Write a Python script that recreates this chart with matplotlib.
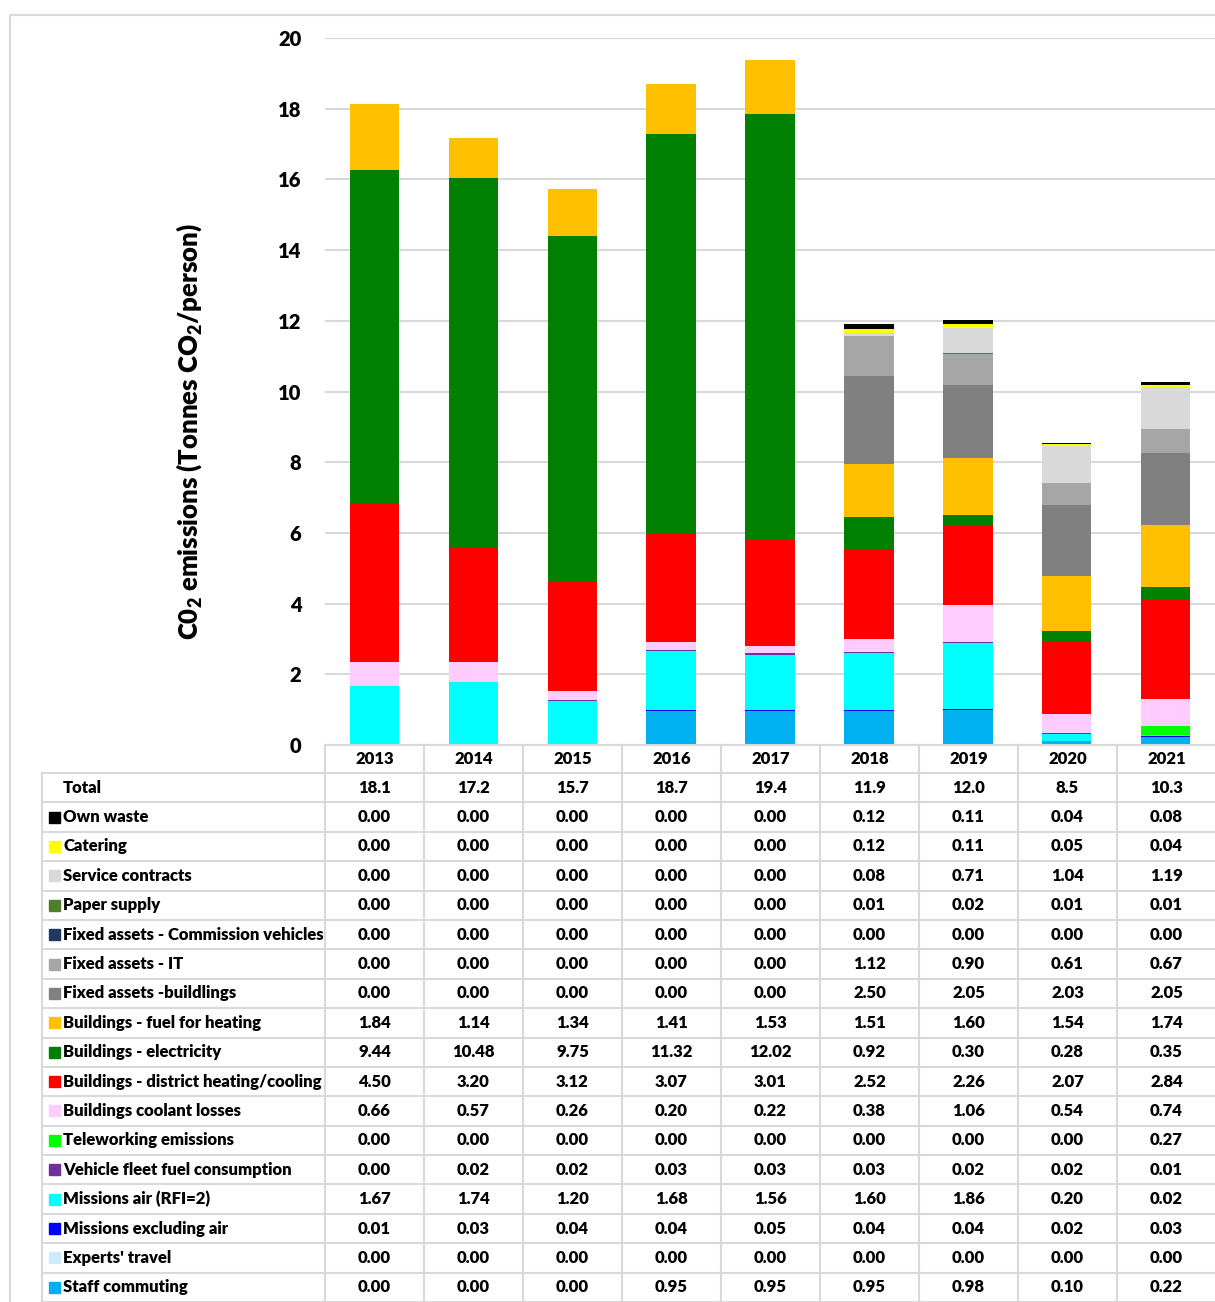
import matplotlib.pyplot as plt
from matplotlib.patches import Rectangle

plt.rcParams['font.family'] = ['Lato', 'DejaVu Sans']
plt.rcParams['font.weight'] = 'heavy'
plt.rcParams['mathtext.default'] = 'regular'

# Data: tonnes CO2 per person, one list per emission source
years = ["2013", "2014", "2015", "2016", "2017", "2018", "2019", "2020", "2021"]
totals = [18.1, 17.2, 15.7, 18.7, 19.4, 11.9, 12.0, 8.5, 10.3]

staff_commuting = [0.00, 0.00, 0.00, 0.95, 0.95, 0.95, 0.98, 0.10, 0.22]
experts_travel = [0.00, 0.00, 0.00, 0.00, 0.00, 0.00, 0.00, 0.00, 0.00]
missions_excl_air = [0.01, 0.03, 0.04, 0.04, 0.05, 0.04, 0.04, 0.02, 0.03]
missions_air = [1.67, 1.74, 1.20, 1.68, 1.56, 1.60, 1.86, 0.20, 0.02]
vehicle_fleet = [0.00, 0.02, 0.02, 0.03, 0.03, 0.03, 0.02, 0.02, 0.01]
teleworking = [0.00, 0.00, 0.00, 0.00, 0.00, 0.00, 0.00, 0.00, 0.27]
coolant_losses = [0.66, 0.57, 0.26, 0.20, 0.22, 0.38, 1.06, 0.54, 0.74]
district_heating = [4.50, 3.20, 3.12, 3.07, 3.01, 2.52, 2.26, 2.07, 2.84]
electricity = [9.44, 10.48, 9.75, 11.32, 12.02, 0.92, 0.30, 0.28, 0.35]
fuel_heating = [1.84, 1.14, 1.34, 1.41, 1.53, 1.51, 1.60, 1.54, 1.74]
fa_buildings = [0.00, 0.00, 0.00, 0.00, 0.00, 2.50, 2.05, 2.03, 2.05]
fa_it = [0.00, 0.00, 0.00, 0.00, 0.00, 1.12, 0.90, 0.61, 0.67]
fa_vehicles = [0.00, 0.00, 0.00, 0.00, 0.00, 0.00, 0.00, 0.00, 0.00]
paper_supply = [0.00, 0.00, 0.00, 0.00, 0.00, 0.01, 0.02, 0.01, 0.01]
service_contracts = [0.00, 0.00, 0.00, 0.00, 0.00, 0.08, 0.71, 1.04, 1.19]
catering = [0.00, 0.00, 0.00, 0.00, 0.00, 0.12, 0.11, 0.05, 0.04]
own_waste = [0.00, 0.00, 0.00, 0.00, 0.00, 0.12, 0.11, 0.04, 0.08]

# stacking order, bottom to top
series = [
    ("Staff commuting", staff_commuting, "#00B0F0"),
    ("Experts' travel", experts_travel, "#CCEBFA"),
    ("Missions excluding air", missions_excl_air, "#0000FF"),
    ("Missions air (RFI=2)", missions_air, "#00FFFF"),
    ("Vehicle fleet fuel consumption", vehicle_fleet, "#7030A0"),
    ("Teleworking emissions", teleworking, "#00FF00"),
    ("Buildings coolant losses", coolant_losses, "#FFCCFF"),
    ("Buildings - district heating/cooling", district_heating, "#FF0000"),
    ("Buildings - electricity", electricity, "#008000"),
    ("Buildings - fuel for heating", fuel_heating, "#FFC000"),
    ("Fixed assets -buildlings", fa_buildings, "#808080"),
    ("Fixed assets - IT", fa_it, "#A6A6A6"),
    ("Fixed assets - Commission vehicles", fa_vehicles, "#203864"),
    ("Paper supply", paper_supply, "#4F7F2B"),
    ("Service contracts", service_contracts, "#D9D9D9"),
    ("Catering", catering, "#FFFF00"),
    ("Own waste", own_waste, "#000000"),
]

W, H = 1215, 1302
fig = plt.figure(figsize=(W / 100, H / 100), dpi=100)
grid_col = "#D9D9D9"

# pixel layout of the chart + table
x_tab = 325          # left edge of the year columns
col_w = 99
y_zero = 745         # baseline / top of table
y_top = 38           # value 20
label_left = 42
row0 = 773
row_h = (H - row0) / 18

# background frame
over = fig.add_axes([0, 0, 1, 1], zorder=0)
over.set_xlim(0, W)
over.set_ylim(H, 0)
over.axis("off")
over.add_patch(Rectangle((10, 15), W + 20, H + 20, fill=False,
                         edgecolor=grid_col, lw=1.5))

# stacked bars
ax = fig.add_axes([x_tab / W, 1 - y_zero / H, (W - x_tab) / W, (y_zero - y_top) / H],
                  zorder=2)
ax.patch.set_alpha(0)
xs = list(range(len(years)))
bottom = [0.0] * len(years)
for name, vals, col in series:
    ax.bar(xs, vals, width=0.5, bottom=bottom, color=col, edgecolor="none")
    bottom = [b + v for b, v in zip(bottom, vals)]

ax.set_xlim(-0.5, len(years) - 0.5)
ax.set_ylim(0, 20)
ax.set_yticks(range(0, 21, 2))
ax.set_xticks([])
ax.grid(axis="y", color=grid_col, lw=1.5)
ax.set_axisbelow(True)
for s in ax.spines.values():
    s.set_visible(False)
ax.tick_params(axis="y", length=0, pad=17, labelsize=14.5)
for lab in ax.get_yticklabels():
    lab.set_fontweight("heavy")

fig.text(189 / W, 1 - 432 / H, "C0$_2$ emissions (Tonnes CO$_2$/person)",
         rotation=90, ha="center", va="center", fontsize=18.5, fontweight="heavy")

# data table under the bars
tab = fig.add_axes([0, 0, 1, 1], zorder=3)
tab.set_xlim(0, W)
tab.set_ylim(H, 0)
tab.axis("off")
tab.patch.set_alpha(0)

lw = 1.5
tab.plot([x_tab, W], [y_zero, y_zero], color=grid_col, lw=lw)
for r in range(19):
    y = row0 + r * row_h
    tab.plot([label_left, W], [y, y], color=grid_col, lw=lw)
tab.plot([label_left, label_left], [row0, H], color=grid_col, lw=lw)
for i in range(len(years)):
    x = x_tab + i * col_w
    tab.plot([x, x], [y_zero, H], color=grid_col, lw=lw)

fs = 12
for i, yr in enumerate(years):
    xc = x_tab + (i + 0.5) * col_w
    tab.text(xc, (y_zero + row0) / 2, yr, ha="center", va="center",
             fontsize=fs, fontweight="heavy")
    tab.text(xc, row0 + 0.5 * row_h, f"{totals[i]:.1f}", ha="center",
             va="center", fontsize=fs, fontweight="heavy")

tab.text(63, row0 + 0.5 * row_h, "Total", ha="left", va="center",
         fontsize=fs, fontweight="heavy")

for r, (name, vals, col) in enumerate(reversed(series)):
    yc = row0 + (r + 1.5) * row_h
    tab.add_patch(Rectangle((49, yc - 5.5), 11, 11, color=col))
    tab.text(63, yc, name, ha="left", va="center", fontsize=fs, fontweight="heavy")
    for i, v in enumerate(vals):
        tab.text(x_tab + (i + 0.5) * col_w, yc, f"{v:.2f}", ha="center",
                 va="center", fontsize=fs, fontweight="heavy")

fig.savefig("out.png", dpi=100)
